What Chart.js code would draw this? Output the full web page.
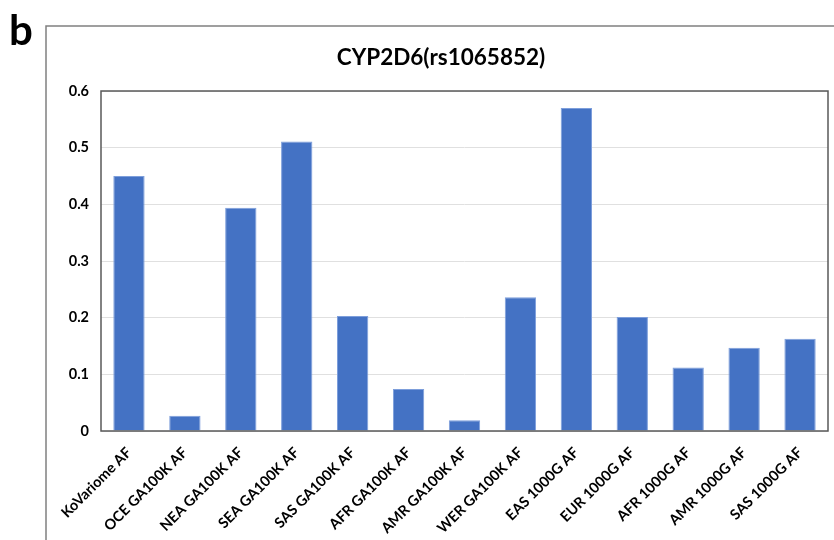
<!DOCTYPE html>
<html><head><meta charset="utf-8">
<script src="https://cdn.jsdelivr.net/npm/chart.js@4/dist/chart.umd.min.js"></script>
<style>html,body{margin:0;padding:0;background:#fff;}#wrap{width:834px;height:540px;position:relative;}</style>
</head><body><div id="wrap"><canvas id="c" width="834" height="540"></canvas></div>
<script>
const categories = ["KoVariome AF","OCE GA100K AF","NEA GA100K AF","SEA GA100K AF","SAS GA100K AF","AFR GA100K AF","AMR GA100K AF","WER GA100K AF","EAS 1000G AF","EUR 1000G AF","AFR 1000G AF","AMR 1000G AF","SAS 1000G AF"];
const values = [0.45,0.027,0.394,0.511,0.203,0.074,0.019,0.236,0.570,0.201,0.112,0.147,0.163];
const yTicks = [0,0.1,0.2,0.3,0.4,0.5,0.6];
const titleText = "CYP2D6(rs1065852)";
const panelLabel = "b";
const FONT = "Lato, 'Open Sans', sans-serif";

const framePlugin = {
  id:'frame',
  afterDraw(chart){
    const ctx = chart.ctx, a = chart.chartArea;
    ctx.save();
    ctx.strokeStyle = '#808080'; ctx.lineWidth = 1.5;
    ctx.beginPath(); ctx.moveTo(46,540); ctx.lineTo(46,26); ctx.lineTo(834,26); ctx.stroke();
    ctx.strokeStyle = '#595959'; ctx.lineWidth = 1.5;
    ctx.strokeRect(a.left, a.top, a.right-a.left, a.bottom-a.top);
    ctx.fillStyle = '#000';
    ctx.font = "bold 42px " + FONT;
    ctx.textAlign = 'left'; ctx.textBaseline = 'alphabetic';
    ctx.fillText(panelLabel, 9, 45);
    ctx.font = "bold 22.5px " + FONT;
    ctx.textAlign = 'center'; ctx.textBaseline = 'middle';
    ctx.fillText(titleText, 441, 58);
    ctx.restore();
  }
};

new Chart(document.getElementById('c'), {
  type:'bar',
  data:{labels:categories, datasets:[{data:values, backgroundColor:'#4472C4', borderColor:'#7d9edb', borderWidth:1, barPercentage:0.56, categoryPercentage:1.0}]},
  options:{
    responsive:false, animation:false, devicePixelRatio:1,
    layout:{padding:{left:46, right:6, top:91, bottom:0}},
    plugins:{legend:{display:false}, tooltip:{enabled:false}, title:{display:false}},
    scales:{
      y:{min:0, max:0.6,
        afterBuildTicks(s){ s.ticks = yTicks.map(v=>({value:v})); },
        afterFit(s){ s.width = 55; },
        grid:{color:'#e0e0e0', lineWidth:1, drawTicks:false},
        border:{display:false},
        ticks:{color:'#000', padding:12, font:{family:FONT, size:14.5, weight:'bold'}, callback:v=>String(v)}
      },
      x:{
        afterFit(s){ s.height = 109; },
        grid:{display:false, drawTicks:false},
        border:{display:false},
        ticks:{color:'#000', maxRotation:45, minRotation:45, autoSkip:false, padding:13, font:{family:FONT, size:14.5, weight:'bold'}}
      }
    }
  },
  plugins:[framePlugin]
});
</script></body></html>
